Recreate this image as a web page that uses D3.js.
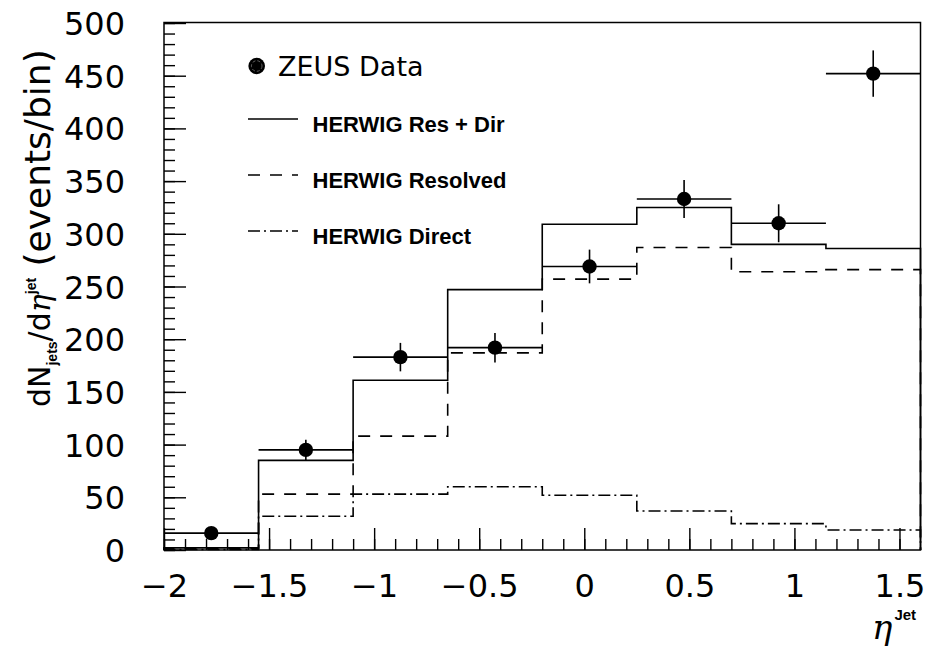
<!DOCTYPE html>
<html>
<head>
<meta charset="utf-8">
<script src="https://cdn.jsdelivr.net/npm/d3@7"></script>
<style>
  html, body { margin: 0; padding: 0; background: #fff; }
  svg { display: block; }
</style>
</head>
<body>
<svg id="chart" width="939" height="663"></svg>
<script>
// ---------------- data ----------------
const binLow  = [-2.0, -1.55, -1.1, -0.65, -0.2, 0.25, 0.7, 1.15];
const binHigh = [-1.55, -1.1, -0.65, -0.2, 0.25, 0.7, 1.15, 1.6];
const zeusData = [16, 95, 183, 192, 269, 333, 310, 452];
const zeusErr  = [4, 9.5, 13.5, 14, 16, 18, 18, 22];
const herwigTotal    = [2, 85, 161, 247, 309, 325, 290, 286];
const herwigResolved = [1.5, 53, 108, 187, 257, 287, 264, 266];
const herwigDirect   = [0.5, 32, 53, 60, 52, 37, 25, 19];
const xMajorTicks = [-2, -1.5, -1, -0.5, 0, 0.5, 1, 1.5];
const yMajorTicks = [0, 50, 100, 150, 200, 250, 300, 350, 400, 450, 500];
const legendLabels = ["ZEUS Data", "HERWIG Res + Dir", "HERWIG Resolved", "HERWIG Direct"];

// ---------------- layout ----------------
const svg = d3.select("#chart");
const L = 164, R = 920.5, T = 22.5, B = 550;
const x = d3.scaleLinear().domain([-2, 1.6]).range([L, R]);
const y = d3.scaleLinear().domain([0, 500]).range([B, T + 0.5]);

const fmt = d => (d < 0 ? "\u2212" : "") + Math.abs(d);

// minor ticks
const xMinor = d3.range(-20, 16).map(i => i / 10);
const yMinor = d3.range(0, 51).map(i => i * 10);

svg.append("g").attr("transform", `translate(0,${B})`)
  .call(d3.axisBottom(x).tickValues(xMinor).tickSize(-11).tickFormat(""))
  .call(g => g.select(".domain").remove())
  .selectAll("line").attr("stroke", "#000").attr("stroke-width", 1.4);

svg.append("g").attr("transform", `translate(${L},0)`)
  .call(d3.axisLeft(y).tickValues(yMinor).tickSize(-11).tickFormat(""))
  .call(g => g.select(".domain").remove())
  .selectAll("line").attr("stroke", "#000").attr("stroke-width", 1.4);

// major ticks + labels
const xAx = svg.append("g").attr("transform", `translate(0,${B})`)
  .call(d3.axisBottom(x).tickValues(xMajorTicks).tickSize(-22).tickPadding(24).tickFormat(fmt))
  .call(g => g.select(".domain").remove());
xAx.selectAll("line").attr("stroke", "#000").attr("stroke-width", 1.4);
xAx.selectAll("text").attr("font-family", "DejaVu Sans").attr("font-size", 32).attr("fill", "#000");

const yAx = svg.append("g").attr("transform", `translate(${L},0)`)
  .call(d3.axisLeft(y).tickValues(yMajorTicks).tickSize(-22).tickPadding(39))
  .call(g => g.select(".domain").remove());
yAx.selectAll("line").attr("stroke", "#000").attr("stroke-width", 1.4);
yAx.selectAll("text").attr("font-family", "DejaVu Sans").attr("font-size", 32).attr("fill", "#000").attr("dy", "0.36em");

// frame
svg.append("rect").attr("x", L).attr("y", T).attr("width", R - L).attr("height", B - T)
  .attr("fill", "none").attr("stroke", "#000").attr("stroke-width", 1.5);

// ---------------- histograms ----------------
function stepPoints(vals) {
  const pts = [[binLow[0], 0]];
  vals.forEach((v, i) => { pts.push([binLow[i], v]); pts.push([binHigh[i], v]); });
  pts.push([binHigh[binHigh.length - 1], 0]);
  return pts;
}
const line = d3.line().x(d => x(d[0])).y(d => y(d[1]));

svg.append("path").attr("d", line(stepPoints(herwigDirect)))
  .attr("fill", "none").attr("stroke", "#000").attr("stroke-width", 1.6)
  .attr("stroke-dasharray", "12,4,2,4");
svg.append("path").attr("d", line(stepPoints(herwigResolved)))
  .attr("fill", "none").attr("stroke", "#000").attr("stroke-width", 1.6)
  .attr("stroke-dasharray", "12,10");
svg.append("path").attr("d", line(stepPoints(herwigTotal)))
  .attr("fill", "none").attr("stroke", "#000").attr("stroke-width", 1.6);

// ---------------- data points ----------------
const pts = zeusData.map((v, i) => ({ lo: binLow[i], hi: binHigh[i], c: (binLow[i] + binHigh[i]) / 2, v, e: zeusErr[i] }));
const gp = svg.append("g");
gp.selectAll(".hbar").data(pts).join("line")
  .attr("x1", d => x(d.lo)).attr("x2", d => x(d.hi))
  .attr("y1", d => y(d.v)).attr("y2", d => y(d.v))
  .attr("stroke", "#000").attr("stroke-width", 1.6);
gp.selectAll(".vbar").data(pts).join("line")
  .attr("x1", d => x(d.c)).attr("x2", d => x(d.c))
  .attr("y1", d => y(d.v - d.e)).attr("y2", d => y(d.v + d.e))
  .attr("stroke", "#000").attr("stroke-width", 1.6);
gp.selectAll("circle").data(pts).join("circle")
  .attr("cx", d => x(d.c)).attr("cy", d => y(d.v)).attr("r", 7.2).attr("fill", "#000");

// ---------------- legend ----------------
const lg = svg.append("g");
lg.append("circle").attr("cx", 256.7).attr("cy", 66).attr("r", 8.3).attr("fill", "#000");
lg.append("circle").attr("cx", 256.7).attr("cy", 66).attr("r", 5.3).attr("fill", "none")
  .attr("stroke", "#777").attr("stroke-width", 0.8).attr("stroke-dasharray", "3,2");
lg.append("text").attr("x", 278).attr("y", 75.5).attr("font-family", "DejaVu Sans")
  .attr("font-size", 27).text(legendLabels[0]);

const legLines = [
  { y: 119, dash: null, ty: 131.5, label: legendLabels[1] },
  { y: 175, dash: "12,10", ty: 187.5, label: legendLabels[2] },
  { y: 231, dash: "12,4,2,4", ty: 243.5, label: legendLabels[3] }
];
legLines.forEach(l => {
  const ln = lg.append("line").attr("x1", 248).attr("x2", 298).attr("y1", l.y).attr("y2", l.y)
    .attr("stroke", "#000").attr("stroke-width", 1.4);
  if (l.dash) ln.attr("stroke-dasharray", l.dash);
  lg.append("text").attr("x", 312.5).attr("y", l.ty).attr("font-family", "Liberation Sans")
    .attr("font-weight", "bold").attr("font-size", 22).text(l.label);
});

// ---------------- axis titles ----------------
const yt = svg.append("text").attr("transform", "translate(50,407) rotate(-90)")
  .attr("font-family", "DejaVu Sans").attr("font-size", 30).attr("fill", "#000");
yt.append("tspan").text("dN");
yt.append("tspan").attr("font-family", "Liberation Sans").attr("font-weight", "bold").attr("font-size", 14).attr("dy", 7).text("jets");
yt.append("tspan").attr("dy", -7).text("/d");
yt.append("tspan").attr("font-family", "DejaVu Serif").attr("font-style", "italic").text("η");
yt.append("tspan").attr("font-family", "Liberation Sans").attr("font-weight", "bold").attr("font-size", 14).attr("dy", -14).text("jet");
yt.append("tspan").attr("dy", 14).attr("font-size", 36).text(" (events/bin)");

const xt = svg.append("text").attr("x", 872).attr("y", 639).attr("fill", "#000");
xt.append("tspan").attr("font-family", "DejaVu Serif").attr("font-style", "italic").attr("font-size", 34).text("η");
xt.append("tspan").attr("font-family", "Liberation Sans").attr("font-weight", "bold").attr("font-size", 15).attr("dx", 2).attr("dy", -19).text("Jet");
</script>
</body>
</html>
